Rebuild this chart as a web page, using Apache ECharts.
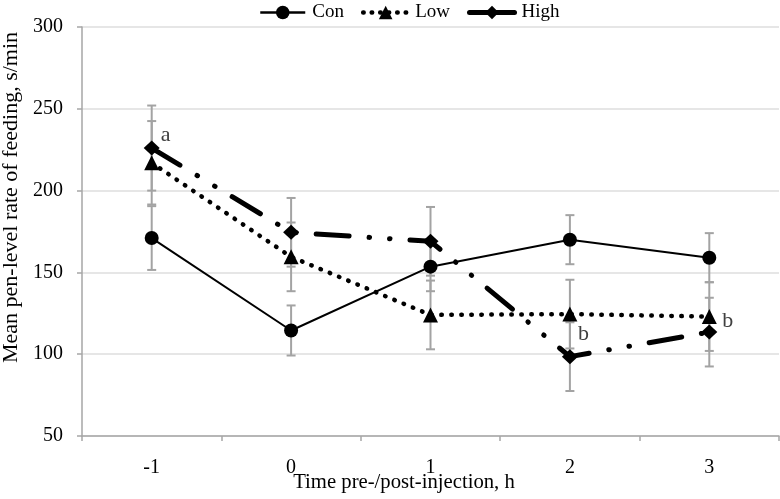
<!DOCTYPE html>
<html>
<head>
<meta charset="utf-8">
<script src="https://cdn.jsdelivr.net/npm/echarts@6/dist/echarts.min.js"></script>
<style>
html,body{margin:0;padding:0;background:#fff;}
#chart{width:780px;height:499px;}
</style>
</head>
<body>
<div id="chart"></div>
<script>
// ---- Data ----
var categories = ['-1', '0', '1', '2', '3'];
var conValues = [171, 114.5, 153.5, 170, 159];
var lowValues = [217, 159.5, 124, 124.5, 123];
var highValues = [226, 174.5, 169, 98.5, 113.5];
var conErr = [19.5, 15.3, 15, 15, 15];
var lowErr = [25.5, 21, 21, 21, 21];
var highErr = [26, 21, 21, 21, 21];
var highLetters = ['a', '', '', 'b', 'b'];
var yTicks = [50, 100, 150, 200, 250, 300];

// ---- Styles ----
var FONT = '"Liberation Serif", "Times New Roman", serif';
var letterStyle = {
  0: {distance: 1, offset: [0, -13]},
  3: {distance: 0, offset: [0, -22]},
  4: {distance: 5, offset: [0, -11]}
};

function errData(vals, errs) {
  return vals.map(function (v, i) { return [i, v, errs[i]]; });
}

function renderErr(params, api) {
  var x = api.value(0), y = api.value(1), e = api.value(2);
  var top = api.coord([x, y + e]);
  var bot = api.coord([x, y - e]);
  var hw = 4.5;
  var st = {stroke: '#a3a3a3', lineWidth: 2};
  return {
    type: 'group',
    children: [
      {type: 'line', shape: {x1: top[0], y1: top[1], x2: bot[0], y2: bot[1]}, style: st},
      {type: 'line', shape: {x1: top[0] - hw, y1: top[1], x2: top[0] + hw, y2: top[1]}, style: st},
      {type: 'line', shape: {x1: bot[0] - hw, y1: bot[1], x2: bot[0] + hw, y2: bot[1]}, style: st}
    ]
  };
}

var highData = highValues.map(function (v, i) {
  if (!highLetters[i]) return v;
  var ls = letterStyle[i] || {distance: 3, offset: [0, 0]};
  return {
    value: v,
    label: {
      show: true, position: 'right', formatter: highLetters[i],
      distance: ls.distance, offset: ls.offset,
      fontSize: 22, color: '#404040', fontFamily: FONT
    }
  };
});

var chart = echarts.init(document.getElementById('chart'), null, {renderer: 'canvas'});
chart.setOption({
  animation: false,
  textStyle: {fontFamily: FONT, color: '#000'},
  grid: {left: 82, right: 1, top: 27, bottom: 63, containLabel: false, outerBoundsMode: 'none'},
  legend: {
    left: 259, top: 3, padding: 0,
    itemWidth: 45, itemHeight: 17, itemGap: 17,
    itemStyle: {color: '#000'},
    textStyle: {fontSize: 19, color: '#000', fontFamily: FONT, padding: [0, 0, 0, 2]},
    data: [
      {name: 'Con', lineStyle: {width: 2.5, type: 'solid', color: '#000'}},
      {name: 'Low', lineStyle: {width: 4.5, type: [0.5, 8], cap: 'round', color: '#000'}},
      {name: 'High', lineStyle: {width: 5, type: 'solid', color: '#000'}}
    ]
  },
  xAxis: {
    type: 'category',
    data: categories,
    boundaryGap: true,
    name: 'Time pre-/post-injection, h',
    nameLocation: 'middle',
    nameGap: 36,
    nameMoveOverlap: false,
    nameTextStyle: {fontSize: 20.7, color: '#000', fontFamily: FONT, padding: [0, 53, 0, 0]},
    axisLine: {lineStyle: {color: '#a6a6a6', width: 1.5}},
    axisTick: {show: true, length: 5, lineStyle: {color: '#a6a6a6', width: 1.5}},
    axisLabel: {fontSize: 20, color: '#000', margin: 22, fontFamily: FONT},
    splitLine: {show: false}
  },
  yAxis: {
    type: 'value',
    min: yTicks[0], max: yTicks[yTicks.length - 1], interval: 50,
    name: 'Mean pen-level rate of feeding, s/min',
    nameLocation: 'middle',
    nameRotate: 90,
    nameGap: 60,
    nameTextStyle: {fontSize: 22, color: '#000', fontFamily: FONT, padding: [0, 0, 0, 68]},
    axisLine: {show: true, lineStyle: {color: '#a6a6a6', width: 1.5}},
    axisTick: {show: true, length: 5, lineStyle: {color: '#a6a6a6', width: 1.5}},
    axisLabel: {fontSize: 20, color: '#000', margin: 19, fontFamily: FONT},
    splitLine: {show: true, lineStyle: {color: '#dedede', width: 1.5}}
  },
  series: [
    {type: 'custom', name: 'conErr', renderItem: renderErr, data: errData(conValues, conErr), z: 1, silent: true},
    {type: 'custom', name: 'lowErr', renderItem: renderErr, data: errData(lowValues, lowErr), z: 1, silent: true},
    {type: 'custom', name: 'highErr', renderItem: renderErr, data: errData(highValues, highErr), z: 1, silent: true},
    {
      type: 'line', name: 'Con', data: conValues, z: 3,
      symbol: 'circle', symbolSize: 14,
      itemStyle: {color: '#000'},
      lineStyle: {color: '#000', width: 2}
    },
    {
      type: 'line', name: 'Low', data: lowValues, z: 3,
      symbol: 'triangle', symbolSize: [15, 15],
      itemStyle: {color: '#000'},
      lineStyle: {color: '#000', width: 4.5, type: [0.5, 9.5], cap: 'round'}
    },
    {
      type: 'line', name: 'High', data: highData, z: 3,
      symbol: 'diamond', symbolSize: [16, 15],
      itemStyle: {color: '#000'},
      lineStyle: {color: '#000', width: 5, type: [33, 20, 0.5, 20, 0.5, 20], cap: 'round'}
    }
  ]
});
</script>
</body>
</html>
